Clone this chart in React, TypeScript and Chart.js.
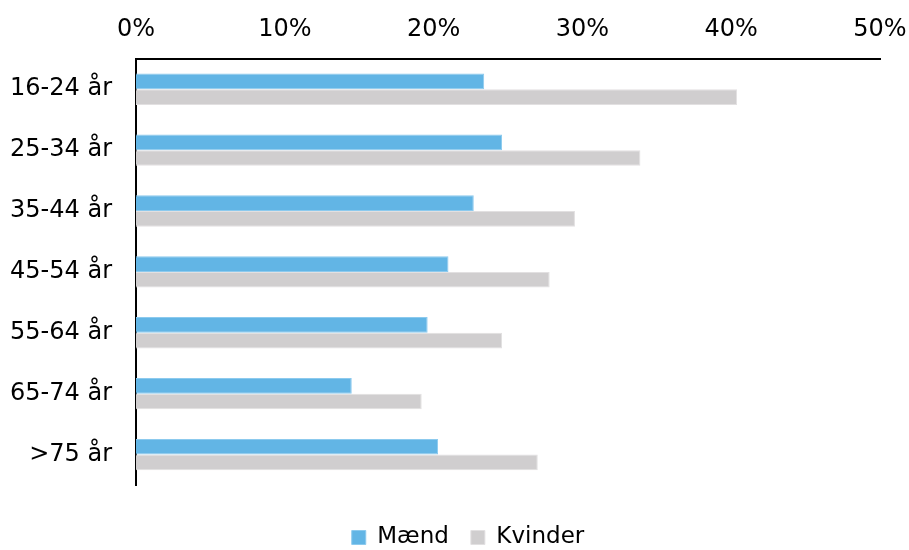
import React, { useEffect, useRef } from "react";
import { Chart, registerables } from "chart.js";

Chart.register(...registerables);

const categories = ["16-24 år", "25-34 år", "35-44 år", "45-54 år", "55-64 år", "65-74 år", ">75 år"];
const maend = [23.4, 24.6, 22.7, 21.0, 19.6, 14.5, 20.3];
const kvinder = [40.4, 33.9, 29.5, 27.8, 24.6, 19.2, 27.0];
const seriesNames = ["Mænd", "Kvinder"];

export default function App() {
  const ref = useRef<HTMLCanvasElement | null>(null);
  useEffect(() => {
    if (!ref.current) return;
    const font = "'DejaVu Sans', Verdana, sans-serif";
    const chart = new Chart(ref.current, {
      type: "bar",
      data: {
        labels: categories,
        datasets: [
          {
            label: seriesNames[0],
            data: maend,
            backgroundColor: "#62B5E5",
            borderColor: "#8ccaee",
            borderWidth: 1,
            categoryPercentage: 0.515,
            barPercentage: 1,
          },
          {
            label: seriesNames[1],
            data: kvinder,
            backgroundColor: "#D0CECF",
            borderColor: "#e2e0e1",
            borderWidth: 1,
            categoryPercentage: 0.515,
            barPercentage: 1,
          },
        ],
      },
      options: {
        indexAxis: "y",
        animation: false,
        responsive: false,
        maintainAspectRatio: false,
        layout: { padding: { top: 0, right: -19, left: 8, bottom: -9 } },
        plugins: {
          tooltip: { enabled: false },
          legend: {
            position: "bottom",
            title: { display: true, text: "", font: { size: 1, lineHeight: 1 }, padding: { top: 0, bottom: 18 } },
            labels: {
              font: { family: font, size: 23 },
              color: "#000",
              boxWidth: 14,
              boxHeight: 14,
              padding: 22,
            },
          },
        },
        scales: {
          x: {
            position: "top",
            min: 0,
            max: 50,
            grid: { display: false, drawTicks: false },
            border: { display: true, color: "#000", width: 2 },
            ticks: {
              stepSize: 10,
              padding: 15,
              color: "#000",
              font: { family: font, size: 24 },
              callback: (v: any) => v + "%",
            },
            afterFit: (s: any) => {
              s.paddingRight = 29;
            },
          },
          y: {
            grid: { display: false, drawTicks: false },
            border: { display: true, color: "#000", width: 2 },
            ticks: {
              padding: 24,
              color: "#000",
              font: { family: font, size: 24 },
            },
            afterFit: (s: any) => {
              s.width = 128;
            },
          },
        },
      },
    });
    return () => chart.destroy();
  }, []);
  return (
    <div style={{ position: "fixed", left: 0, top: 0, width: 909, height: 550, background: "#fff" }}>
      <canvas ref={ref} width={909} height={550} style={{ width: 909, height: 550 }} />
    </div>
  );
}
